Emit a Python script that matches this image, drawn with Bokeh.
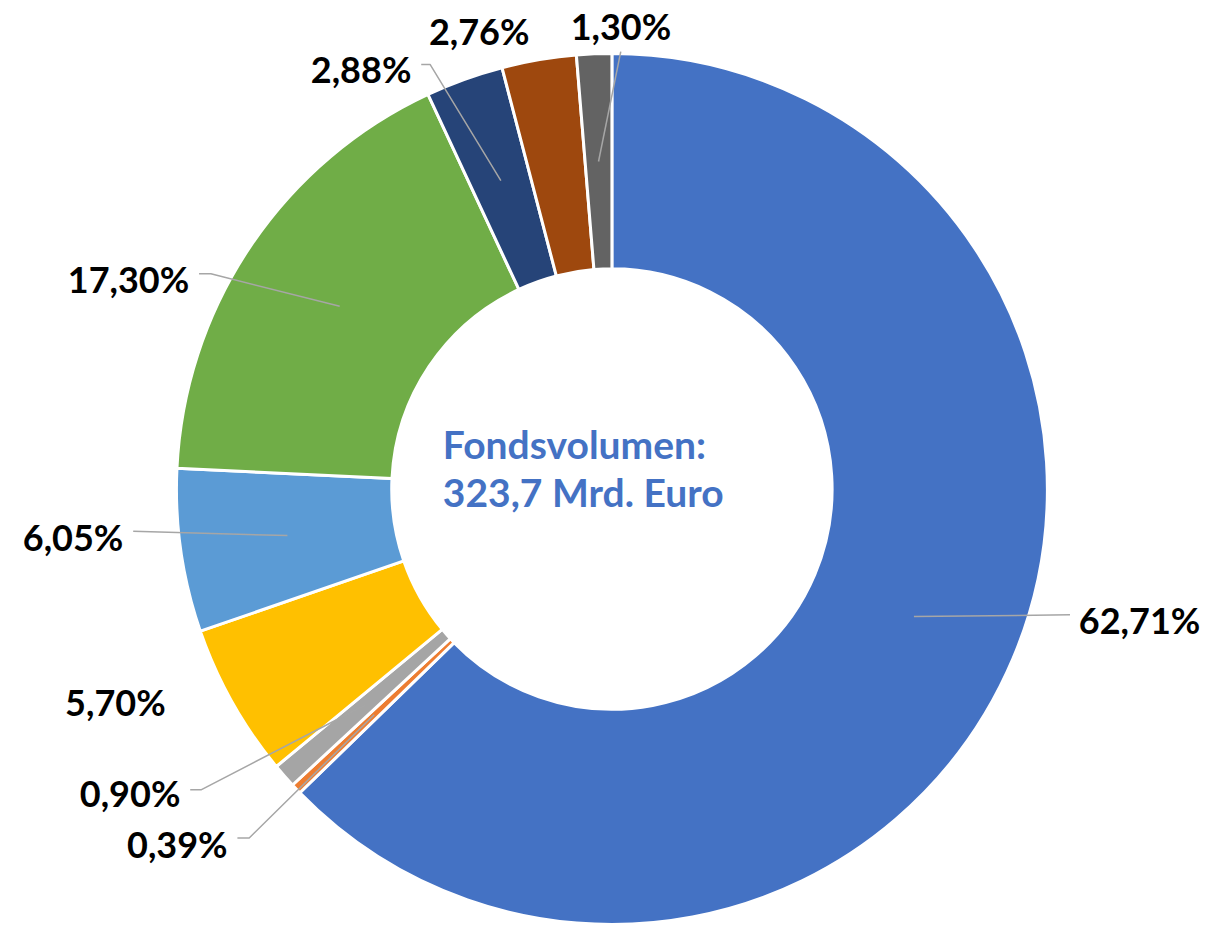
import math
from bokeh.plotting import figure
from bokeh.models import Range1d, ColumnDataSource
from bokeh.core.properties import value
from bokeh.embed import file_html
from bokeh.resources import INLINE

# ---- data ----
values = [62.71, 0.39, 0.90, 5.70, 6.05, 17.30, 2.88, 2.76, 1.30]
colors = ["#4472C4", "#ED7D31", "#A5A5A5", "#FFC000", "#5B9BD5",
          "#70AD47", "#264478", "#9E480E", "#636363"]
labels = [f"{v:.2f}".replace(".", ",") + "%" for v in values]
center_lines = ["Fondsvolumen:", "323,7 Mrd. Euro"]

# ---- layout (reference pixel coordinates, scaled to fit figure) ----
W, H = 1230, 940
FW, FH = 1214, 924
S = FH / H
CX, CY = 622, 497
R_OUT, R_IN = 443, 224
FONT = "Lato"
LABEL_SIZE = "36px"
CENTER_SIZE = "39px"

# label text position (x, cap-centre y, align) and leader elbow points
label_layout = [
    (1097, 628, "left",   [(1088, 625)]),
    (231,  856, "right",  [(241, 852), (253, 852)]),
    (183,  804, "right",  [(193, 803), (204, 803)]),
    (168,  712, "right",  []),
    (125,  544, "right",  [(135, 540)]),
    (192,  281, "right",  [(202, 278), (214, 278)]),
    (418,  68,  "right",  [(428, 65), (437, 65)]),
    (487,  29,  "center", []),
    (580,  24,  "left",   [(631, 52)]),
]

def Y(yscreen):
    return H - yscreen

p = figure(width=FW, height=FH, output_backend="svg",
           toolbar_location=None, x_range=Range1d(0, FW / S),
           y_range=Range1d(H - FH / S, H), min_border=0)
p.axis.visible = False
p.grid.visible = False
p.outline_line_color = None
p.background_fill_color = "white"
p.border_fill_color = "white"

total = sum(values)
starts, ends, mids = [], [], []
cum = 0.0
for v in values:
    f0 = cum / total
    cum += v
    f1 = cum / total
    starts.append(math.pi / 2 - 2 * math.pi * f1)
    ends.append(math.pi / 2 - 2 * math.pi * f0)
    mids.append(math.pi / 2 - 2 * math.pi * (f0 + f1) / 2)

src = ColumnDataSource(dict(x=[CX] * len(values), y=[Y(CY)] * len(values),
                            start=starts, end=ends, color=colors))
p.annular_wedge(x="x", y="y", inner_radius=R_IN, outer_radius=R_OUT,
                start_angle="start", end_angle="end", direction="anticlock",
                fill_color="color", line_color="white", line_width=3,
                source=src)

# leader lines
r_mid = (R_OUT + R_IN) / 2
xs, ys = [], []
for i, (tx, ty, al, pts) in enumerate(label_layout):
    if not pts:
        continue
    ax = CX + r_mid * math.cos(mids[i])
    ay = Y(CY) + r_mid * math.sin(mids[i])
    lx = [pt[0] for pt in pts] + [ax]
    ly = [Y(pt[1]) for pt in pts] + [ay]
    xs.append(lx)
    ys.append(ly)
p.multi_line(xs=xs, ys=ys, line_color="#A6A6A6", line_width=1.5)

# labels
for i, (tx, ty, al, pts) in enumerate(label_layout):
    p.text(x=[tx], y=[Y(ty + 2)], text=[labels[i]], text_align=al,
           text_baseline="middle", text_font=value(FONT),
           text_font_style="bold", text_font_size=LABEL_SIZE,
           text_color="#000000")

# centre text
p.text(x=[450, 450], y=[Y(451), Y(500)], text=center_lines,
       text_align="left", text_baseline="middle", text_font=value(FONT),
       text_font_style="bold", text_font_size=CENTER_SIZE,
       text_color="#4472C4")

open("out.html", "w").write(file_html(p, INLINE))
